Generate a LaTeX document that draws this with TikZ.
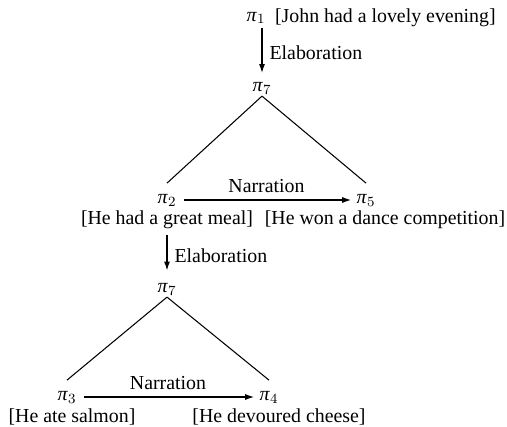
\documentclass[tikz,border=0pt]{standalone}
\usepackage{fontspec}
\setmainfont{Liberation Serif}
\usetikzlibrary{arrows.meta}
\newcommand\unit[1]{\textit{π}$_{#1}$}

\begin{document}
\begin{tikzpicture}[x=0.02cm,y=-0.02cm,
  every node/.style={inner sep=1pt,font=\fontsize{11.3}{13}\selectfont},
  rel/.style={-{Latex[length=5pt,width=3.4pt]},semithick},
  branch/.style={semithick}]
  \useasboundingbox (0,0) rectangle (507,426);
  % top: pi_1 elaborated by pi_7
  \node (p1) at (256,18) {\unit{1}};
  \node[anchor=west] (john) at (273,18) {[John had a lovely evening]};
  \node (top) at (262,88) {\unit{7}};
  \draw[rel,shorten <=1pt,shorten >=4pt] (p1.south -| top) -- node[right=3pt] {Elaboration} (top);
  % first narration
  \node (p2) at (167,200) {\unit{2}};
  \node (p5) at (366,200) {\unit{5}};
  \node (meal) at (167,220) {[He had a great meal]};
  \node (dance) at (385,220) {[He won a dance competition]};
  \draw[branch] (top.south) -- ([yshift=5pt]p2.north);
  \draw[branch] (top.south) -- ([yshift=5pt]p5.north);
  \draw[rel,shorten <=3pt,shorten >=2pt] (p2) -- node[above=3pt] {Narration} (p5);
  % second level: pi_2 elaborated
  \node (sub) at (167,289) {\unit{7}};
  \draw[rel,shorten <=2pt,shorten >=6pt] (meal) -- node[right=3pt] {Elaboration} (sub);
  \node (p3) at (67,397) {\unit{3}};
  \node (p4) at (269,397) {\unit{4}};
  \node (salmon) at (72,417) {[He ate salmon]};
  \node (cheese) at (279,417) {[He devoured cheese]};
  \draw[branch] (sub.south) -- ([yshift=5pt]p3.north);
  \draw[branch] (sub.south) -- ([yshift=5pt]p4.north);
  \draw[rel,shorten <=3pt,shorten >=2pt] (p3) -- node[above=3pt] {Narration} (p4);
\end{tikzpicture}
\end{document}
